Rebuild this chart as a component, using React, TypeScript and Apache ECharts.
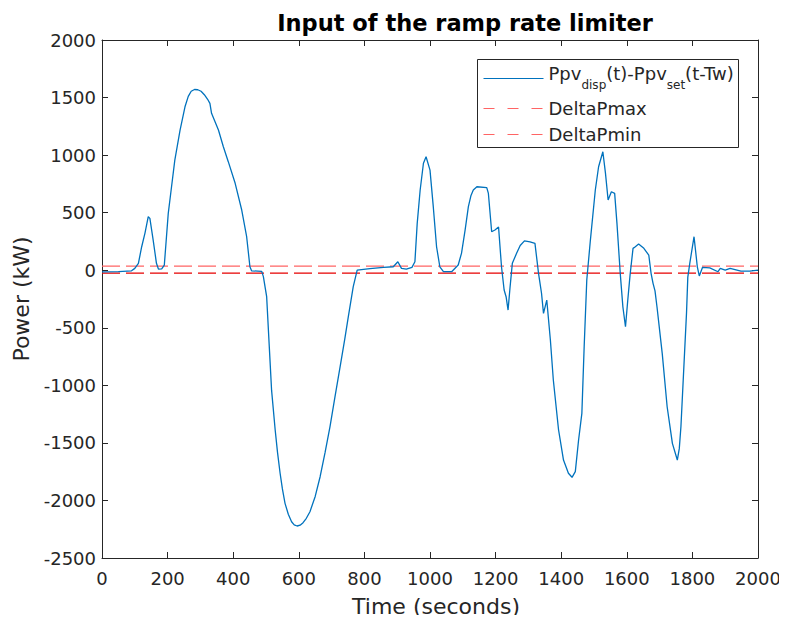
import { useEffect, useRef } from "react";
import * as echarts from "echarts";

// ---- data ----
const timeSec = [
  0, 50, 90, 100, 111, 121, 131, 141, 146, 156,
  166, 172, 182, 190, 202, 212, 222, 238, 253, 263,
  272, 282, 292, 302, 312, 322, 329, 334, 355, 370,
  385, 406, 426, 441, 451, 456, 487, 492, 502, 510,
  517, 528, 535, 543, 550, 558, 568, 578, 586, 595,
  604, 613, 623, 634, 650, 665, 680, 695, 710, 726,
  740, 751, 766, 778, 817, 858, 888, 902, 913, 928,
  945, 954, 961, 970, 980, 988, 1000, 1010, 1020, 1030,
  1041, 1066, 1086, 1096, 1107, 1117, 1125, 1132, 1143, 1173,
  1178, 1188, 1198, 1209, 1218, 1226, 1232, 1238, 1244, 1251,
  1264, 1275, 1288, 1305, 1320, 1331, 1340, 1346, 1356, 1367,
  1376, 1392, 1407, 1422, 1433, 1443, 1453, 1463, 1470, 1478,
  1489, 1504, 1514, 1527, 1535, 1543, 1553, 1563, 1570, 1580,
  1588, 1596, 1603, 1610, 1619, 1626, 1636, 1652, 1667, 1674,
  1680, 1686, 1692, 1708, 1723, 1739, 1754, 1760, 1765, 1772,
  1782, 1786, 1792, 1805, 1815, 1821, 1831, 1853, 1878, 1885,
  1900, 1915, 1948, 1975, 2000,
];
const powerKW = [
  -15, -12, -5, 16, 60, 204, 323, 465, 450, 262,
  60, 10, 12, 45, 494, 725, 957, 1218, 1420, 1510,
  1555, 1570, 1568, 1555, 1525, 1485, 1450, 1363, 1218, 1073,
  943, 755, 523, 291, 30, -5, -10, -56, -230, -664,
  -1042, -1388, -1580, -1764, -1900, -2025, -2120, -2185, -2212, -2222,
  -2215, -2193, -2155, -2098, -1965, -1794, -1585, -1360, -1105, -838,
  -600, -404, -143, 0, 14, 25, 30, 74, 16, 10,
  25, 74, 407, 697, 929, 986, 870, 552, 204, 30,
  -13, -13, 45, 147, 349, 552, 650, 697, 725, 717,
  667, 334, 349, 375, 30, -172, -230, -346, -150, 60,
  147, 215, 255, 247, 233, -30, -200, -375, -259, -606,
  -954, -1388, -1649, -1764, -1799, -1750, -1475, -1243, -664, -85,
  262, 697, 899, 1029, 841, 610, 682, 668, 407, -27,
  -317, -491, -259, -40, 190, 204, 227, 190, 132, -27,
  -114, -180, -317, -722, -1186, -1504, -1649, -1550, -1360, -954,
  -375, -60, 60, 291, 30, -50, 25, 20, -13, 16,
  0, 16, -7, -7, 0,
];
const deltaPmax = 35;
const deltaPmin = -25;
const xRange = { min: 0, max: 2000, interval: 200 };
const yRange = { min: -2500, max: 2000, interval: 500 };
const seriesNames = ["Ppv_disp(t)-Ppv_set(t-Tw)", "DeltaPmax", "DeltaPmin"];
const titleText = "Input of the ramp rate limiter";
const xName = "Time (seconds)";
const yName = "Power (kW)";

const FONT = "DejaVu Sans";
const AX = "#262626";
const BLUE = "#0072BD";
const RED_MAX = "#ff6464";
const RED_MIN = "#e60000";

export default function App() {
  const ref = useRef<HTMLDivElement>(null);
  useEffect(() => {
    if (!ref.current) return;
    const chart = echarts.init(ref.current, undefined, { renderer: "svg" });
    const curve = timeSec.map((t, i) => [t, powerKW[i]]);
    const plain = (v: number) => String(v);
    const axisCommon = {
      type: "value" as const,
      axisLine: { show: true, onZero: false, lineStyle: { color: AX, width: 1 } },
      axisTick: { show: true, inside: true, length: 6, lineStyle: { color: AX } },
      splitLine: { show: false },
    };
    const gl = 102, gt = 40, gw = 656, gh = 518;
    chart.setOption({
      animation: false,
      backgroundColor: "#ffffff",
      textStyle: { fontFamily: FONT },
      title: {
        text: titleText,
        left: 460,
        textAlign: "center",
        top: 6,
        textStyle: { fontFamily: FONT, fontSize: 22.5, fontWeight: "bold", color: "#000" },
      },
      grid: { left: gl, top: gt, width: gw, height: gh, containLabel: false },
      xAxis: [
        {
          ...axisCommon,
          position: "bottom",
          ...xRange,
          axisLabel: { show: true, color: AX, fontSize: 18, fontFamily: FONT, margin: 11, formatter: plain },
          name: xName,
          nameLocation: "middle",
          nameGap: 37,
          nameTextStyle: { color: AX, fontSize: 22, fontFamily: FONT, padding: [0, 0, 0, 12] },
        },
        {
          ...axisCommon,
          position: "top",
          ...xRange,
          axisLabel: { show: false },
        },
      ],
      yAxis: [
        {
          ...axisCommon,
          position: "left",
          ...yRange,
          axisLabel: { show: true, color: AX, fontSize: 18, fontFamily: FONT, margin: 6, formatter: plain },
          name: yName,
          nameLocation: "middle",
          nameGap: 62,
          nameTextStyle: { color: AX, fontSize: 22, fontFamily: FONT },
        },
        {
          ...axisCommon,
          position: "right",
          ...yRange,
          axisLabel: { show: false },
        },
      ],
      series: [
        {
          name: seriesNames[0],
          type: "line",
          data: curve,
          showSymbol: false,
          symbol: "none",
          smooth: false,
          lineStyle: { color: BLUE, width: 1.3 },
          z: 3,
        },
        {
          name: seriesNames[1],
          type: "line",
          data: [[xRange.min, deltaPmax], [xRange.max, deltaPmax]],
          symbol: "none",
          lineStyle: { color: RED_MAX, width: 1.2, type: [18, 6] },
          z: 2,
        },
        {
          name: seriesNames[2],
          type: "line",
          data: [[xRange.min, deltaPmin], [xRange.max, deltaPmin]],
          symbol: "none",
          lineStyle: { color: RED_MIN, width: 1.2, type: [18, 6] },
          z: 2,
        },
      ],
      graphic: [
        {
          type: "group",
          left: 477,
          top: 59,
          z: 100,
          children: [
            {
              type: "rect",
              shape: { x: 0, y: 0, width: 261, height: 88 },
              style: { fill: "#fff", stroke: AX, lineWidth: 1 },
            },
            {
              type: "line",
              shape: { x1: 6, y1: 19, x2: 66, y2: 19 },
              style: { stroke: BLUE, lineWidth: 1.2 },
            },
            {
              type: "line",
              shape: { x1: 6, y1: 49, x2: 66, y2: 49 },
              style: { stroke: RED_MAX, lineWidth: 1.2, lineDash: [11, 13] },
            },
            {
              type: "line",
              shape: { x1: 6, y1: 75, x2: 66, y2: 75 },
              style: { stroke: RED_MAX, lineWidth: 1.2, lineDash: [11, 13] },
            },
            {
              type: "text",
              x: 71,
              y: 18,
              style: {
                text: "{a|Ppv}{s|disp}{a|(t)-Ppv}{s|set}{a|(t-Tw)}",
                verticalAlign: "middle",
                fill: AX,
                rich: {
                  a: { fontFamily: FONT, fontSize: 18, lineHeight: 26, verticalAlign: "top", fill: AX },
                  s: { fontFamily: FONT, fontSize: 12, lineHeight: 12, verticalAlign: "bottom", fill: AX },
                },
              },
            },
            {
              type: "text",
              x: 71,
              y: 49,
              style: { text: seriesNames[1], fontFamily: FONT, fontSize: 18, fill: AX, verticalAlign: "middle" },
            },
            {
              type: "text",
              x: 71,
              y: 75,
              style: { text: seriesNames[2], fontFamily: FONT, fontSize: 18, fill: AX, verticalAlign: "middle" },
            },
          ],
        },
      ],
    });
    return () => chart.dispose();
  }, []);
  return <div ref={ref} style={{ width: 787, height: 623, margin: -8 }} />;
}
